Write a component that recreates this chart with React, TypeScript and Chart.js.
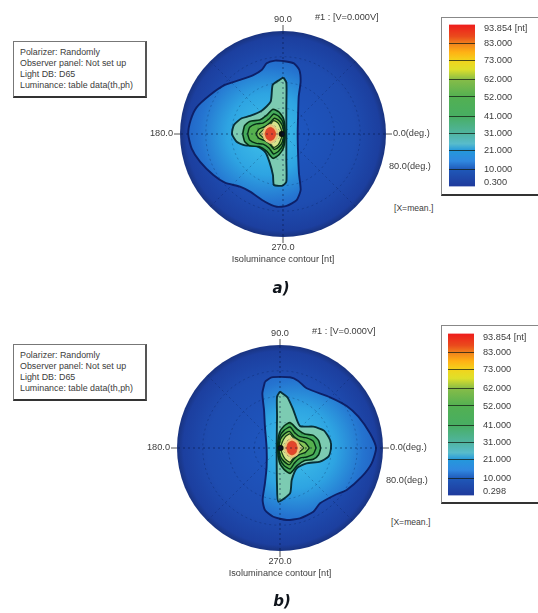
import React, { useEffect, useRef } from "react";
import { Chart, registerables } from "chart.js";

Chart.register(...registerables);

type Pair = [number, number];

// Contour outlines, in degrees of (theta*cos phi, theta*sin phi)
const a10: Pair[] = [[0.3,56.7],[8.5,54.9],[12.7,49.7],[13.7,40.7],[12.2,29],[11.7,13.5],[11.4,0],[11.7,-15],[12.4,-30.6],[13.7,-43.5],[10.6,-51.3],[2.8,-55.9],[-4.9,-56.5],[-14,-52.6],[-25.6,-44.8],[-33.4,-40.9],[-45.1,-37.8],[-54.1,-31.9],[-64.5,-21.5],[-71,-11.1],[-73.6,0],[-71.7,10.9],[-67.1,20.7],[-56.7,30.3],[-45.1,38.1],[-33.4,42],[-23.1,45.8],[-16.6,49.7],[-12.7,54.9],[-6.2,57]];
const a21: Pair[] = [[0.3,44],[2.6,39.9],[2.6,21.2],[2.6,0],[2.6,-20.2],[2.6,-37],[-0.3,-40.1],[-7,-39.6],[-7.8,-31.9],[-10.6,-21.5],[-14,-13.7],[-20.5,-9.3],[-29.5,-8.8],[-36,-6],[-39.6,0],[-38.1,7],[-32.1,12.2],[-25.6,14],[-16.6,18.1],[-9.6,25.1],[-8,38.1],[-2.8,42]];
const a31: Pair[] = [[-31.3,0],[-29.8,6.5],[-25.9,9.8],[-18.1,10.9],[-13,14.2],[-7.8,19.2],[-3.1,17.1],[0.5,11.7],[1.6,0],[0.5,-10.4],[-3.1,-16.1],[-7.8,-18.9],[-13,-13],[-18.6,-9.8],[-25.9,-9.1],[-29.8,-5.7]];
const a41: Pair[] = [[-27.5,0],[-25.9,5.2],[-20.7,7.8],[-15.5,8.5],[-10.9,11.7],[-7.3,15.5],[-3.1,13.5],[0,9.1],[1,0],[0,-8.3],[-3.1,-13],[-7.3,-15.5],[-10.9,-10.9],[-15.5,-7.8],[-20.7,-7.3],[-25.9,-4.7]];
const a52: Pair[] = [[-21.2,0],[-18.6,3.9],[-14.2,5.7],[-10.4,8.5],[-6.7,12.2],[-3.1,10.4],[-0.5,6.5],[0.5,0],[-0.5,-6.2],[-3.1,-9.8],[-6.7,-11.9],[-10.4,-7.8],[-14.2,-5.2],[-18.6,-3.4]];
const a62: Pair[] = [[-18.6,0],[-15,3.6],[-10.9,6.2],[-7.3,10.4],[-3.6,8.3],[-1.6,4.1],[-0.5,0],[-1.6,-4.1],[-3.6,-8.3],[-7.3,-10.4],[-10.9,-6.2],[-15,-3.1]];
const a73: Pair[] = [[-15.8,0],[-14.2,4.7],[-9.8,7.3],[-5.7,4.7],[-3.9,0],[-5.7,-4.7],[-9.8,-7.3],[-14.2,-4.7]];
const a83: Pair[] = [[-14,0],[-12.7,3.6],[-9.8,5.2],[-7,3.6],[-5.7,0],[-7,-3.6],[-9.8,-5.2],[-12.7,-3.6]];
const aMark: Pair[] = [[-1,0]];

const b10: Pair[] = [[-11.7,51.5],[-6.5,54.9],[7.8,54.9],[14.2,52.1],[20.7,46.4],[38.9,39.4],[51.8,32.6],[60.9,24.3],[69.9,11.4],[74.6,0],[71.2,-11.9],[63.5,-22.3],[51.8,-32.6],[42.7,-36.5],[31.1,-43],[25.9,-49.5],[15.5,-54.6],[5.2,-55.9],[-5.2,-53.4],[-11.7,-48.2],[-13.5,-40.4],[-11.7,-27.5],[-10.4,-14.5],[-10.4,0],[-11.7,16.6],[-12.4,29.5],[-13.7,42.5]];
const b21: Pair[] = [[0,43.8],[5.7,39.4],[10.4,29.5],[15.5,17.1],[25.9,16.6],[34.2,13.5],[38.9,6.2],[39.6,0],[37.6,-6.7],[31.1,-10.6],[20.7,-11.9],[13,-15.8],[9.1,-24.9],[7.8,-35.2],[-1.3,-41.7],[-2.3,-30],[-2.6,0],[-2.3,24.3],[-2.3,39.9]];
const b31: Pair[] = [[31.6,0],[30,5.7],[25.9,9.8],[19.2,10.9],[13.5,14.5],[7.8,19.7],[3.1,17.1],[-0.5,11.7],[-1.8,0],[-0.5,-10.9],[3.1,-16.6],[7.8,-19.7],[13.5,-13.5],[19.2,-9.8],[25.9,-8.8],[30,-5.2]];
const b41: Pair[] = [[28,0],[25.9,5.2],[20.7,7.8],[15.5,8.8],[11.4,11.9],[7.8,16.3],[3.1,13.7],[0,9.1],[-1.3,0],[0,-8.5],[3.1,-13.5],[7.8,-16.3],[11.4,-11.4],[15.5,-7.8],[20.7,-7],[25.9,-4.7]];
const b52: Pair[] = [[22.8,0],[19.7,4.1],[15,6],[10.9,8.8],[7.3,12.9],[3.1,10.6],[0.3,6.7],[-0.8,0],[0.3,-6.5],[3.1,-10.4],[7.3,-12.9],[10.9,-8.3],[15,-5.2],[19.7,-3.4]];
const b62: Pair[] = [[18.6,0],[15,3.6],[11.4,6.5],[7.8,10.9],[3.9,8.5],[1.6,4.1],[0.5,0],[1.6,-4.1],[3.9,-8.5],[7.8,-10.9],[11.4,-6.5],[15,-3.1]];
const b73: Pair[] = [[15.5,0],[14,4.9],[9.3,7.5],[5.2,4.9],[3.4,0],[5.2,-4.9],[9.3,-7.5],[14,-4.9]];
const b83: Pair[] = [[13.5,0],[12.2,3.9],[9.3,5.4],[6.5,3.9],[5.2,0],[6.5,-3.9],[9.3,-5.4],[12.2,-3.9]];
const bMark: Pair[] = [[0.5,0]];

// Colour bar
const barMin = 0.3;
const barMax = 93.854;
const bandValues = [83, 73, 62, 52, 41, 31, 21, 10];
const labelValuesA = [91.6, 83, 73, 62, 52, 41, 31, 21, 10, 2.6];
const labelsA = ["93.854 [nt]", "83.000", "73.000", "62.000", "52.000", "41.000", "31.000", "21.000", "10.000", "0.300"];
const labelsB = ["93.854 [nt]", "83.000", "73.000", "62.000", "52.000", "41.000", "31.000", "21.000", "10.000", "0.298"];
const rampValues = [93.854, 87, 83, 78, 73, 68, 62, 52, 41, 31, 25, 21, 15, 10, 0.3];
const rampColors = ["#ee1c1c", "#ea4a1c", "#f0801c", "#ffb014", "#f2d41c", "#dfe02a", "#86bc48", "#52b052", "#48ae62", "#50b4a0", "#58bccc", "#2498dc", "#3088e0", "#1f58b8", "#1f3a9c"];

// Contour fills, outermost first
const levelFills = ["#2b9adf", "#7ccbb2", "#45ab5c", "#55b04e", "#88c658", "#d9e48c", "#f3c47a", "#e2452c"];
const levelStrokes = ["#0d2068", "#082f38", "#052e16", "#052e16", "#052e16", "#153e16", "#d8c080", "#d04a20"];
const levelWidths = [1.9, 1.9, 1.6, 1.4, 1.4, 1.2, 1, 0.8];

const gridRadii = [20, 40, 60];
const gridSpokes = [45, 135, 225, 315];
const gridAxes = [0, 90, 180, 270];

const discPlugin = {
  id: "disc",
  beforeDatasetsDraw(chart: any) {
    const { ctx, scales: { x, y } } = chart;
    const cx = x.getPixelForValue(0);
    const cy = y.getPixelForValue(0);
    const r = x.getPixelForValue(80) - cx;
    const g = ctx.createRadialGradient(cx, cy, 0, cx, cy, r);
    g.addColorStop(0, "#1e58c2");
    g.addColorStop(0.7, "#1e4cb0");
    g.addColorStop(0.94, "#1c3f9f");
    g.addColorStop(1, "#19337f");
    ctx.save();
    ctx.beginPath();
    ctx.arc(cx, cy, r, 0, Math.PI * 2);
    ctx.fillStyle = g;
    ctx.fill();
    ctx.strokeStyle = "#555";
    ctx.lineWidth = 1;
    ctx.beginPath();
    ctx.moveTo(cx - r, cy); ctx.lineTo(cx - r - 6, cy);
    ctx.moveTo(cx + r, cy); ctx.lineTo(cx + r + 6, cy);
    ctx.moveTo(cx, cy - r); ctx.lineTo(cx, cy - r - 6);
    ctx.moveTo(cx, cy + r); ctx.lineTo(cx, cy + r + 6);
    ctx.stroke();
    ctx.restore();
  },
  afterDatasetsDraw(chart: any) {
    const { ctx, scales: { x, y } } = chart;
    const cx = x.getPixelForValue(0);
    const cy = y.getPixelForValue(0);
    const unit = (x.getPixelForValue(80) - cx) / 80;
    const spoke = (s: number) => {
      const t = (s * Math.PI) / 180;
      ctx.beginPath();
      ctx.moveTo(cx, cy);
      ctx.lineTo(cx + 80 * unit * Math.cos(t), cy - 80 * unit * Math.sin(t));
      ctx.stroke();
    };
    ctx.save();
    ctx.lineWidth = 1;
    ctx.setLineDash([2, 3]);
    ctx.strokeStyle = "rgba(5,20,60,0.26)";
    for (const rr of gridRadii) {
      ctx.beginPath();
      ctx.arc(cx, cy, rr * unit, 0, Math.PI * 2);
      ctx.stroke();
    }
    gridSpokes.forEach(spoke);
    ctx.strokeStyle = "rgba(5,20,60,0.55)";
    gridAxes.forEach(spoke);
    ctx.restore();
  },
};

function Disc({ contours, mark, lobeX, left, top }: { contours: Pair[][]; mark: Pair[]; lobeX: number; left: number; top: number }) {
  const ref = useRef<HTMLCanvasElement>(null);
  useEffect(() => {
    const toPts = (c: Pair[]) => [...c, c[0]].map(([x, y]) => ({ x, y }));
    const rings = contours.map((c, i) => ({
      data: toPts(c),
      showLine: true,
      fill: "shape",
      tension: 0.2,
      pointRadius: 0,
      borderColor: levelStrokes[i],
      borderWidth: levelWidths[i],
      backgroundColor:
        i === 0
          ? (ctx: any) => {
              const { chart } = ctx;
              const { x, y } = chart.scales;
              if (!x || !y) return levelFills[0];
              const cx = x.getPixelForValue(lobeX);
              const cy = y.getPixelForValue(0);
              const r = x.getPixelForValue(70) - x.getPixelForValue(0);
              if (!Number.isFinite(cx) || !Number.isFinite(cy) || !Number.isFinite(r) || r <= 0) return levelFills[0];
              const g = chart.ctx.createRadialGradient(cx, cy, 0, cx, cy, r);
              g.addColorStop(0, "#40c4ea");
              g.addColorStop(0.45, "#2ea4e2");
              g.addColorStop(0.75, "#2574d0");
              g.addColorStop(1, "#205cc0");
              return g;
            }
          : levelFills[i],
    }));
    const chart = new Chart(ref.current!, {
      type: "scatter",
      data: {
        datasets: [
          { data: mark.map(([x, y]) => ({ x, y })), pointRadius: 3, backgroundColor: "#0a0f0a", borderWidth: 0 },
          ...rings.reverse(),
        ] as any,
      },
      options: {
        animation: false,
        responsive: false,
        layout: { padding: 8 },
        plugins: { legend: { display: false }, tooltip: { enabled: false } },
        scales: {
          x: { type: "linear", min: -80, max: 80, display: false },
          y: { type: "linear", min: -80, max: 80, display: false },
        },
      },
      plugins: [discPlugin],
    } as any);
    return () => chart.destroy();
  }, []);
  return <canvas ref={ref} width={222} height={222} style={{ position: "absolute", left, top }} />;
}

function ColorBar({ labels, left, top }: { labels: string[]; left: number; top: number }) {
  const ref = useRef<HTMLCanvasElement>(null);
  useEffect(() => {
    const chart = new Chart(ref.current!, {
      type: "bar",
      data: {
        labels: [""],
        datasets: [
          {
            data: [[barMin, barMax]],
            barPercentage: 1,
            categoryPercentage: 1,
            backgroundColor: (ctx: any) => {
              const { chart: c } = ctx;
              const s = c.scales.y;
              if (!s) return rampColors[0];
              const yTop = s.getPixelForValue(barMax);
              const yBot = s.getPixelForValue(barMin);
              if (!Number.isFinite(yTop) || !Number.isFinite(yBot)) return rampColors[0];
              const g = c.ctx.createLinearGradient(0, yTop, 0, yBot);
              rampValues.forEach((v, i) => g.addColorStop((barMax - v) / (barMax - barMin), rampColors[i]));
              return g;
            },
          },
        ],
      },
      options: {
        animation: false,
        responsive: false,
        layout: { padding: { top: 5, bottom: 5 } },
        plugins: { legend: { display: false }, tooltip: { enabled: false } },
        scales: {
          x: { display: false },
          y: {
            position: "right",
            min: barMin,
            max: barMax,
            border: { display: false },
            grid: {
              z: 1,
              drawTicks: false,
              lineWidth: 1,
              color: (c: any) => (bandValues.includes(c.tick?.value) ? "rgba(20,30,20,0.75)" : "rgba(0,0,0,0)"),
            },
            afterBuildTicks: (s: any) => {
              s.ticks = labelValuesA.map((value) => ({ value }));
            },
            afterFit: (s: any) => {
              s.width = 63;
            },
            ticks: {
              autoSkip: false,
              padding: 9,
              color: "#3c3c3c",
              font: { family: "'Liberation Sans'", size: 9.2 },
              callback: (_v: any, i: number) => labels[i],
            },
          },
        },
      },
    } as any);
    return () => chart.destroy();
  }, []);
  return <canvas ref={ref} width={89} height={191} style={{ position: "absolute", left, top }} />;
}

function Txt({ x, y, children, align = "left", size = 9.2 }: { x: number; y: number; children: React.ReactNode; align?: "left" | "center" | "right"; size?: number }) {
  const tx = align === "left" ? "0" : align === "center" ? "-50%" : "-100%";
  return (
    <span
      style={{
        position: "absolute",
        left: x,
        top: y,
        transform: `translate(${tx},-50%)`,
        whiteSpace: "nowrap",
        font: `${size}px 'Liberation Sans', Arial, sans-serif`,
        color: "#3c3c3c",
        lineHeight: 1,
      }}
    >
      {children}
    </span>
  );
}

function Panel({ dy, dx, contours, mark, lobeX, labels, caption, boxX, boxY }: { dy: number; dx: number; contours: Pair[][]; mark: Pair[]; lobeX: number; labels: string[]; caption: string; boxX: number; boxY: number }) {
  const cx = 283 + dx;
  const cy = 134 + dy;
  return (
    <>
      <div style={{ position: "absolute", left: boxX, top: boxY, width: 134, height: 57, background: "#fff", border: "1px solid #777", borderBottom: "2px solid #333", borderRight: "2px solid #555", boxSizing: "border-box" }} />
      {["Polarizer: Randomly", "Observer panel: Not set up", "Light DB: D65", "Luminance: table data(th,ph)"].map((t, i) => (
        <Txt key={t} x={boxX + 7} y={boxY + 11 + i * 11} size={8.9}>{t}</Txt>
      ))}
      <Disc contours={contours} mark={mark} lobeX={lobeX} left={cx - 111} top={cy - 111} />
      <Txt x={cx} y={cy - 114} align="center">90.0</Txt>
      <Txt x={cx + 32} y={cy - 116}>#1 : [V=0.000V]</Txt>
      <Txt x={cx - 110} y={cy} align="right">180.0</Txt>
      <Txt x={cx + 110} y={cy}>0.0(deg.)</Txt>
      <Txt x={cx + 106} y={cy + 33}>80.0(deg.)</Txt>
      <Txt x={cx + 111} y={cy + 74} size={8.6}>[X=mean.]</Txt>
      <Txt x={cx} y={cy + 114} align="center">270.0</Txt>
      <Txt x={cx} y={cy + 126} align="center">Isoluminance contour [nt]</Txt>
      <div style={{ position: "absolute", left: 441, top: 17 + dy - (dy ? 6 : 0), width: 110, height: 179, border: "1px solid #888", borderBottom: "2px solid #333", boxSizing: "border-box" }} />
      <ColorBar labels={labels} left={449 + (dy ? -1 : 0)} top={10 + dy + (dy ? -5 : 0)} />
      <span style={{ position: "absolute", left: 281 + (dy ? 1 : 0), top: 288 + dy - (dy ? 1 : 0), transform: "translate(-50%,-50%)", font: "italic bold 15px 'DejaVu Sans', sans-serif", color: "#10151c", lineHeight: 1 }}>{caption}</span>
    </>
  );
}

export default function App() {
  return (
    <div style={{ position: "absolute", left: 0, top: 0, width: 538, height: 613, overflow: "hidden", background: "#fff", filter: "blur(0.6px)" }}>
      <Panel dy={0} dx={0} contours={[a10, a21, a31, a41, a52, a62, a73, a83]} mark={aMark} lobeX={-12} labels={labelsA} caption="a)" boxX={13} boxY={41} />
      <Panel dy={314} dx={-3} contours={[b10, b21, b31, b41, b52, b62, b73, b83]} mark={bMark} lobeX={12} labels={labelsB} caption="b)" boxX={13} boxY={344} />
    </div>
  );
}
